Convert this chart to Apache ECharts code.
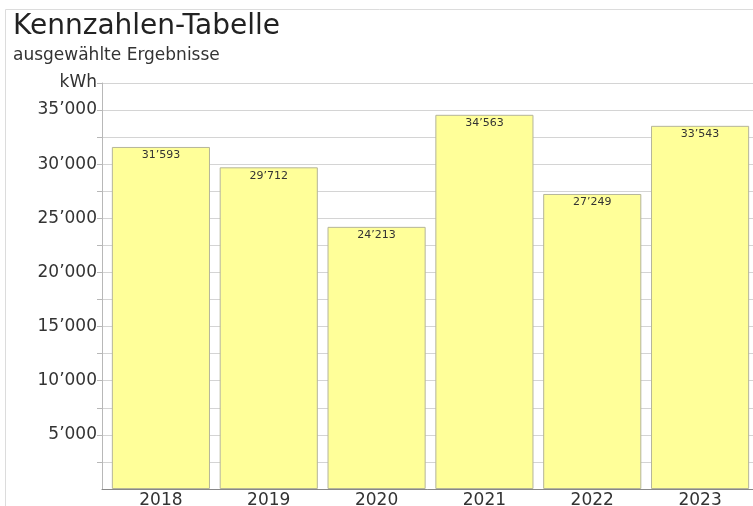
<!DOCTYPE html>
<html>
<head>
<meta charset="utf-8">
<script src="https://cdn.jsdelivr.net/npm/echarts@6/dist/echarts.min.js"></script>
<style>
  html, body { margin: 0; padding: 0; background: #fff; }
  #chart { width: 753px; height: 506px; }
</style>
</head>
<body>
<div id="chart"></div>
<script>
// Jahreswerte (kWh)
const years = ['2018', '2019', '2020', '2021', '2022', '2023'];
const energyKwh = [31593, 29712, 24213, 34563, 27249, 33543];
const yMax = 37500;
const yStep = 2500;
const unitLabel = 'kWh';

// Tausendertrennzeichen im Schweizer Stil: 31’593
function fmt(v) {
  return String(Math.round(v)).replace(/\B(?=(\d{3})+(?!\d))/g, '\u2019');
}

const chart = echarts.init(document.getElementById('chart'), null, { renderer: 'canvas' });

const plotTop = 83;
const plotBottom = 17;

chart.setOption({
  animation: false,
  backgroundColor: '#ffffff',
  textStyle: { fontFamily: 'DejaVu Sans' },
  title: {
    text: 'Kennzahlen-Tabelle',
    subtext: 'ausgewählte Ergebnisse',
    left: 8,
    top: 8,
    itemGap: 6,
    textStyle: { fontSize: 28, fontWeight: 'normal', color: '#222', fontFamily: 'DejaVu Sans' },
    subtextStyle: { fontSize: 17, color: '#333', fontFamily: 'DejaVu Sans' }
  },
  graphic: [
    {
      type: 'polyline',
      silent: true,
      shape: { points: [[5.5, 506], [5.5, 9.5], [753, 9.5]] },
      style: { stroke: '#dcdcdc', lineWidth: 1, fill: null }
    }
  ],
  grid: [
    // Raster und Werteachse
    { left: 102, right: -1, top: plotTop, bottom: plotBottom, outerBoundsMode: 'none', containLabel: false },
    // Säulenbereich, leicht eingerückt
    { left: 107, right: -1, top: plotTop, bottom: plotBottom, outerBoundsMode: 'none', containLabel: false }
  ],
  xAxis: [
    {
      gridIndex: 0,
      type: 'value',
      min: 0,
      max: 1,
      axisLine: { show: true, onZero: false, lineStyle: { color: '#888', width: 1 } },
      axisTick: { show: false },
      axisLabel: { show: false },
      splitLine: { show: false }
    },
    {
      gridIndex: 1,
      type: 'category',
      data: years,
      axisLine: { show: false },
      axisTick: { show: false },
      axisLabel: { color: '#333', fontSize: 17, margin: 3, fontFamily: 'DejaVu Sans' },
      splitLine: { show: false }
    }
  ],
  yAxis: [
    {
      gridIndex: 0,
      type: 'value',
      min: 0,
      max: yMax,
      interval: yStep,
      axisLine: { show: true, lineStyle: { color: '#b8b8b8', width: 1 } },
      axisTick: { show: true, length: 5, lineStyle: { color: '#b8b8b8' } },
      axisLabel: {
        color: '#333',
        fontSize: 17,
        margin: 5,
        showMaxLabel: true,
        showMinLabel: false,
        fontFamily: 'DejaVu Sans',
        formatter: function (v) {
          if (v === yMax) return unitLabel;
          if (v % 5000 !== 0 || v === 0) return '';
          return fmt(v);
        }
      },
      splitLine: { show: true, lineStyle: { color: '#d4d4d4', width: 1 } }
    },
    {
      gridIndex: 1,
      type: 'value',
      min: 0,
      max: yMax,
      interval: yStep,
      show: false
    }
  ],
  series: [
    {
      type: 'bar',
      xAxisIndex: 1,
      yAxisIndex: 1,
      data: energyKwh,
      barCategoryGap: '9%',
      itemStyle: { color: '#ffff99', borderColor: '#b5b59a', borderWidth: 1 },
      label: {
        show: true,
        position: 'insideTop',
        distance: 3,
        color: '#333',
        fontSize: 11,
        fontFamily: 'DejaVu Sans',
        formatter: function (p) { return fmt(p.value); }
      }
    }
  ]
});
</script>
</body>
</html>
